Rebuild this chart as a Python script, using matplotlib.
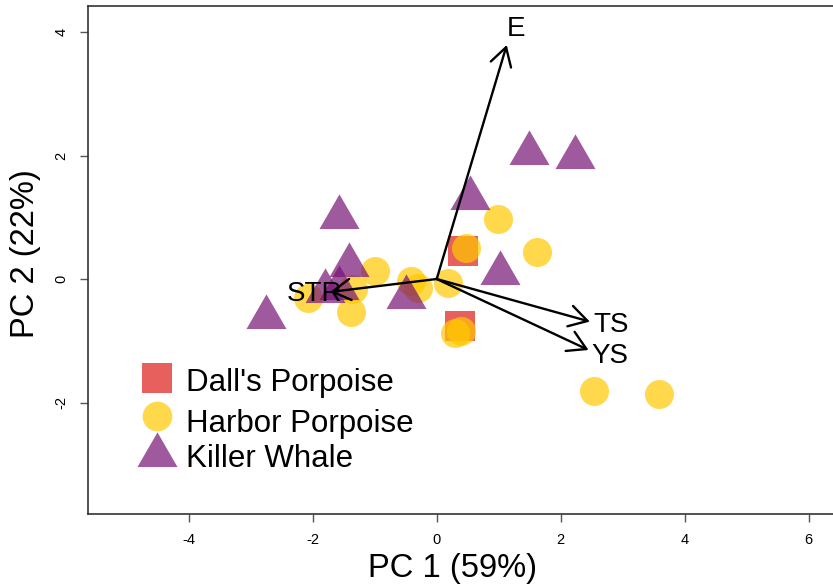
import matplotlib
matplotlib.use("Agg")
import matplotlib.pyplot as plt
from matplotlib.path import Path
import numpy as np

plt.rcParams['font.family'] = ['Liberation Sans', 'DejaVu Sans']

# ---- data ----
species = ["Dall's Porpoise", "Harbor Porpoise", "Killer Whale"]
dall_pc1 = [0.42, 0.38]
dall_pc2 = [0.45, -0.76]
harbor_pc1 = [0.99, 1.62, 0.48, -1.00, -1.35, -1.38, -2.07, -0.41, -0.30, 0.19, 0.30, 0.40, 2.54, 3.59]
harbor_pc2 = [0.97, 0.44, 0.51, 0.13, -0.16, -0.53, -0.31, -0.03, -0.15, -0.07, -0.88, -0.85, -1.81, -1.87]
killer_pc1 = [1.49, 2.23, 0.54, -1.58, -1.42, 1.02, -0.49, -2.76, -1.80, -1.57]
killer_pc2 = [2.04, 1.98, 1.31, 1.01, 0.23, 0.09, -0.29, -0.61, -0.20, -0.15]
var_names = ["E", "TS", "YS", "STR"]
load_pc1 = [1.13, 2.47, 2.45, -1.72]
load_pc2 = [3.79, -0.69, -1.15, -0.21]
x_ticks = [-4, -2, 0, 2, 4, 6]
y_ticks = [-2, 0, 2, 4]
x_label = "PC 1 (59%)"
y_label = "PC 2 (22%)"

# ---- styles ----
W, H = 833, 585
fig = plt.figure(figsize=(W / 100, H / 100), dpi=100)
left_px, right_px, top_px, bottom_px = 87.7, 845, 6, 514
ax = fig.add_axes([left_px / W, 1 - bottom_px / H, (right_px - left_px) / W, (bottom_px - top_px) / H])
x0_px, ppu_x = 436.7, 62.0
y0_px, ppu_y = 279.0, 61.75
ax.set_xlim((left_px - x0_px) / ppu_x, (right_px - x0_px) / ppu_x)
ax.set_ylim((y0_px - bottom_px) / ppu_y, (y0_px - top_px) / ppu_y)

tri = Path([(-1, -0.57735), (1, -0.57735), (0, 1.1547), (-1, -0.57735)],
           [Path.MOVETO, Path.LINETO, Path.LINETO, Path.CLOSEPOLY])

c_dall = (222/255, 28/255, 25/255, 0.7)
c_harb = (255/255, 200/255, 0/255, 0.7)
c_kill = (119/255, 19/255, 116/255, 0.7)
s_sq, s_ci, s_tr = 497, 436, 1108

ax.scatter(dall_pc1, dall_pc2, marker='s', s=s_sq, color=c_dall, linewidths=0, zorder=2)
ax.scatter(harbor_pc1, harbor_pc2, marker='o', s=s_ci, color=c_harb, linewidths=0, zorder=3)
ax.scatter(killer_pc1, killer_pc2, marker=tri, s=s_tr, color=c_kill, linewidths=0, zorder=4)

label_offsets = {"E": (6.5, 11.5), "TS": (15.0, -2.4), "YS": (15.5, -4.1), "STR": (-11.5, -1.2)}
for name, lx, ly in zip(var_names, load_pc1, load_pc2):
    ax.annotate('', xy=(lx, ly), xytext=(0, 0),
                arrowprops=dict(arrowstyle='->,head_length=0.65,head_width=0.38', lw=1.7,
                                color='black', shrinkA=0, shrinkB=0, mutation_scale=20),
                zorder=5)
    ox, oy = label_offsets[name]
    ax.annotate(name, xy=(lx, ly), xytext=(ox, oy), textcoords='offset points',
                ha='center', va='center', fontsize=20, color='black', zorder=6)

ax.set_xticks(x_ticks)
ax.set_yticks(y_ticks)
ax.set_xticklabels([str(t) for t in x_ticks], fontsize=10.5)
ax.set_yticklabels([str(t) for t in y_ticks], fontsize=10.5, rotation=90, va='center')
ax.tick_params(direction='out', length=6, width=1, color='#555555', pad=8)
for sp in ax.spines.values():
    sp.set_color('#333333')
    sp.set_linewidth(1.2)

fig.text(452 / W, 1 - 569 / H, x_label, ha='center', va='center', fontsize=23.5)
fig.text(26 / W, 1 - 254 / H, y_label, ha='center', va='center', fontsize=23.5, rotation=90)

# legend (manual, R style)
leg_colors = [c_dall, c_harb, c_kill]
leg_markers = ['s', 'o', tri]
leg_sizes = [s_sq, s_ci * 1.05, s_tr]
leg_marker_y = [378, 416, 455.3]
leg_text_y = [390.7, 431.7, 466.7]
for name, col, mk, sz, my, ty in zip(species, leg_colors, leg_markers, leg_sizes, leg_marker_y, leg_text_y):
    fig.add_artist(plt.Line2D([156.7 / W], [1 - my / H], marker=mk, markersize=np.sqrt(sz),
                              color=col, markeredgewidth=0, linestyle='none',
                              transform=fig.transFigure))
    fig.text(186 / W, 1 - ty / H, name, ha='left', va='baseline', fontsize=22.5)

fig.savefig('out.png', dpi=100)
